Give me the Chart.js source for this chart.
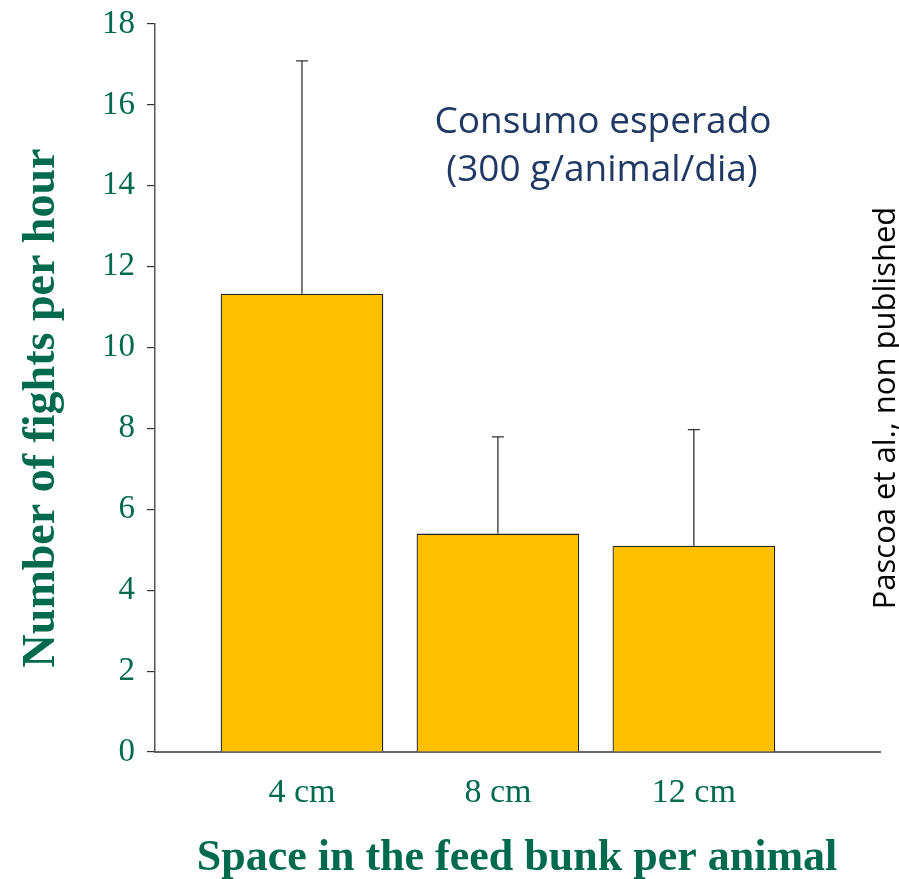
<!DOCTYPE html>
<html>
<head>
<meta charset="utf-8">
<script src="https://cdn.jsdelivr.net/npm/chart.js@4"></script>
<style>
    body { margin: 0; background: #fff; }
    #wrap { width: 899px; height: 879px; }
</style>
</head>
<body>
<div id="wrap"><canvas id="fightsChart"></canvas></div>
<script>
// values
const categories = ['4 cm', '8 cm', '12 cm'];
const meanFights = [11.33, 5.40, 5.10];
const sdFights = [5.76, 2.39, 2.87];
const yTicks = [0, 2, 4, 6, 8, 10, 12, 14, 16, 18];

const green = '#006A4E';
const serif = '"Liberation Serif", "Times New Roman", serif';

// only the upper whisker is drawn, like in the slide
const errorBars = {
    id: 'errorBars',
    afterDatasetsDraw(chart) {
        const { ctx, scales: { x, y } } = chart;
        ctx.save();
        ctx.strokeStyle = '#333';
        ctx.lineWidth = 1.3;
        meanFights.forEach((m, i) => {
            const px = x.getPixelForValue(i);
            const base = y.getPixelForValue(m);
            const top = y.getPixelForValue(m + sdFights[i]);
            ctx.beginPath();
            ctx.moveTo(px, base);
            ctx.lineTo(px, top);
            ctx.moveTo(px - 6, top);
            ctx.lineTo(px + 6, top);
            ctx.stroke();
        });
        ctx.restore();
    }
};

const labels = {
    id: 'labels',
    afterDraw(chart) {
        const ctx = chart.ctx;
        ctx.save();

        // axis titles
        ctx.fillStyle = green;
        ctx.font = 'bold 46px ' + serif;
        ctx.textAlign = 'center';
        ctx.textBaseline = 'alphabetic';
        ctx.save();
        ctx.translate(54, 408);
        ctx.rotate(-Math.PI / 2);
        ctx.fillText('Number of fights per hour', 0, 0);
        ctx.restore();

        ctx.font = 'bold 44px ' + serif;
        ctx.fillText('Space in the feed bunk per animal', 517, 870);

        // note inside the plot
        ctx.fillStyle = '#1F3864';
        ctx.font = '37px "Open Sans", sans-serif';
        ctx.fillText('Consumo esperado', 603, 133);
        ctx.fillText('(300 g/animal/dia)', 602, 181);

        // source, rotated on the right
        ctx.fillStyle = '#000';
        ctx.font = '31px "Open Sans", sans-serif';
        ctx.translate(895, 408);
        ctx.rotate(-Math.PI / 2);
        ctx.fillText('Pascoa et al., non published', 0, 0);

        ctx.restore();
    }
};

new Chart(document.getElementById('fightsChart'), {
    type: 'bar',
    data: {
        datasets: [{
            data: meanFights.map((v, i) => ({ x: i, y: v })),
            backgroundColor: '#FFC000',
            borderColor: '#222',
            borderWidth: 1.3,
            barPercentage: 0.83,
            categoryPercentage: 1
        }]
    },
    options: {
        responsive: true,
        maintainAspectRatio: false,
        animation: false,
        layout: { padding: { top: 24, right: 19, left: 0, bottom: 0 } },
        plugins: {
            legend: { display: false },
            tooltip: { enabled: false }
        },
        scales: {
            x: {
                type: 'linear',
                min: -0.75,
                max: 2.95,
                offset: false,
                afterBuildTicks: (s) => { s.ticks = categories.map((c, i) => ({ value: i })); },
                afterFit: (s) => {
                    s.height = 127;
                    s.paddingLeft = 0;
                    s.paddingRight = 0;
                },
                grid: { display: false },
                border: { display: true, color: '#666', width: 2 },
                ticks: {
                    callback: (v) => categories[v],
                    color: green,
                    font: { family: serif, size: 34 },
                    padding: 13,
                    maxRotation: 0
                }
            },
            y: {
                min: 0,
                max: 18,
                afterBuildTicks: (s) => { s.ticks = yTicks.map(v => ({ value: v })); },
                afterFit: (s) => {
                    s.width = 155;
                    s.paddingTop = 0;
                    s.paddingBottom = 0;
                },
                grid: { drawOnChartArea: false, tickLength: 8, color: '#333', lineWidth: 1.2 },
                border: { display: true, color: '#555', width: 1.5 },
                ticks: {
                    color: green,
                    font: { family: serif, size: 33 },
                    padding: 12
                }
            }
        }
    },
    plugins: [errorBars, labels]
});
</script>
</body>
</html>
